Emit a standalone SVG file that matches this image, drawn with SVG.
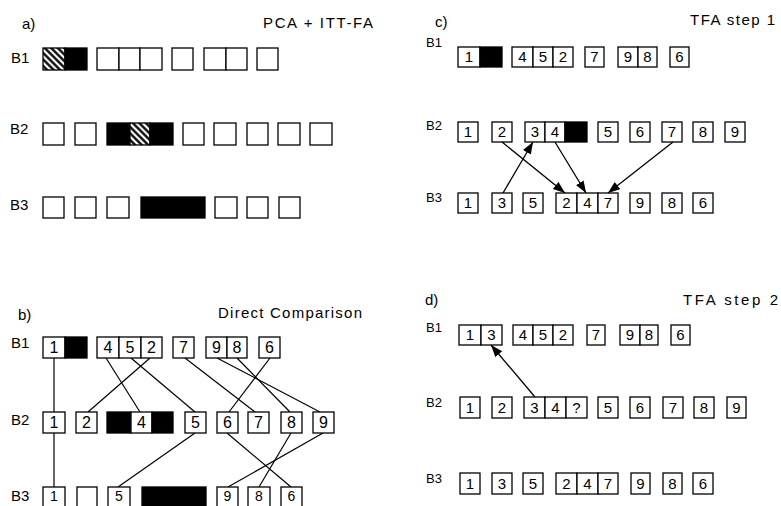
<svg xmlns="http://www.w3.org/2000/svg" width="781" height="506" viewBox="0 0 781 506">
<style>
.w{fill:#fff;stroke:#000;stroke-width:1.3}
.k{fill:#000;stroke:#000;stroke-width:1.3}
.h{fill:url(#hatch);stroke:#000;stroke-width:1.3}
text{font-family:"Liberation Sans",Arial,sans-serif;fill:#000}
.lb{font-size:15px}
.ls{font-size:13px}
.ti{font-size:15px}
.db{font-size:16px;text-anchor:middle}
.dbs{font-size:14px;text-anchor:middle}
.dc{font-size:15px;text-anchor:middle}
.c{stroke:#000;stroke-width:1.2;fill:none}
.a{stroke:#000;stroke-width:1.3;fill:none;marker-end:url(#ah)}
</style>
<defs>
<pattern id="hatch" patternUnits="userSpaceOnUse" width="4.6" height="4.6" patternTransform="rotate(-45)">
<rect width="4.6" height="4.6" fill="#fff"/>
<line x1="2.3" y1="0" x2="2.3" y2="4.6" stroke="#000" stroke-width="2.3"/>
</pattern>
<marker id="ah" markerUnits="userSpaceOnUse" markerWidth="13" markerHeight="10" refX="12" refY="4.5" orient="auto">
<path d="M0,0 L12,4.5 L0,9 z" fill="#000"/>
</marker>
</defs>
<rect width="781" height="506" fill="#fff"/>

<!-- Panel a -->
<g id="panel-a-titles">
<text class="ti" x="22" y="29">a)</text>
<text class="ti" x="263" y="28" textLength="110">PCA + ITT-FA</text>
<text class="lb" x="11" y="63">B1</text>
<text class="lb" x="10" y="134">B2</text>
<text class="lb" x="10" y="210">B3</text>
</g>
<g id="a-b1-1"><rect class="h" x="43" y="48" width="22" height="22"/></g>
<g id="a-b1-2"><rect class="k" x="65" y="48" width="22" height="22"/></g>
<g id="a-b1-3"><rect class="w" x="97" y="48" width="22" height="22"/></g>
<g id="a-b1-4"><rect class="w" x="119" y="48" width="21" height="22"/></g>
<g id="a-b1-5"><rect class="w" x="140" y="48" width="22" height="22"/></g>
<g id="a-b1-6"><rect class="w" x="172" y="48" width="21" height="22"/></g>
<g id="a-b1-7"><rect class="w" x="204" y="48" width="22" height="22"/></g>
<g id="a-b1-8"><rect class="w" x="226" y="48" width="21" height="22"/></g>
<g id="a-b1-9"><rect class="w" x="257" y="48" width="21" height="22"/></g>

<g id="a-b2-1"><rect class="w" x="43" y="123" width="21" height="22"/></g>
<g id="a-b2-2"><rect class="w" x="75" y="123" width="21" height="22"/></g>
<g id="a-b2-3"><rect class="k" x="107" y="123" width="23" height="22"/></g>
<g id="a-b2-4"><rect class="h" x="130" y="123" width="20" height="22"/></g>
<g id="a-b2-5"><rect class="k" x="150" y="123" width="23" height="22"/></g>
<g id="a-b2-6"><rect class="w" x="183" y="123" width="21" height="22"/></g>
<g id="a-b2-7"><rect class="w" x="214" y="123" width="22" height="22"/></g>
<g id="a-b2-8"><rect class="w" x="247" y="123" width="21" height="22"/></g>
<g id="a-b2-9"><rect class="w" x="278" y="123" width="22" height="22"/></g>
<g id="a-b2-10"><rect class="w" x="310" y="123" width="22" height="22"/></g>

<g id="a-b3-1"><rect class="w" x="43" y="197" width="21" height="21"/></g>
<g id="a-b3-2"><rect class="w" x="75" y="197" width="21" height="21"/></g>
<g id="a-b3-3"><rect class="w" x="107" y="197" width="22" height="21"/></g>
<g id="a-b3-4"><rect class="k" x="141" y="197" width="64" height="21"/></g>
<g id="a-b3-5"><rect class="w" x="215" y="197" width="22" height="21"/></g>
<g id="a-b3-6"><rect class="w" x="247" y="197" width="21" height="21"/></g>
<g id="a-b3-7"><rect class="w" x="279" y="197" width="21" height="21"/></g>

<!-- Panel b -->
<g id="panel-b-titles">
<text class="ti" x="18" y="320">b)</text>
<text class="ti" x="218" y="318" textLength="144">Direct Comparison</text>
<text class="lb" x="11" y="348">B1</text>
<text class="lb" x="11" y="425">B2</text>
<text class="lb" x="11" y="501">B3</text>
</g>
<g id="connectors-b">
<line class="c" x1="54" y1="358" x2="54" y2="412"/>
<line class="c" x1="54" y1="433" x2="54" y2="487"/>
<line class="c" x1="106" y1="358" x2="140" y2="412"/>
<line class="c" x1="150" y1="358" x2="88" y2="412"/>
<line class="c" x1="131" y1="358" x2="195" y2="412"/>
<line class="c" x1="185" y1="358" x2="255" y2="412"/>
<line class="c" x1="270" y1="358" x2="229" y2="412"/>
<line class="c" x1="217" y1="358" x2="320" y2="412"/>
<line class="c" x1="237" y1="358" x2="290" y2="412"/>
<line class="c" x1="195" y1="433" x2="118" y2="487"/>
<line class="c" x1="227" y1="433" x2="291" y2="487"/>
<line class="c" x1="291" y1="433" x2="259" y2="487"/>
<line class="c" x1="323" y1="433" x2="228" y2="487"/>
</g>
<g id="b-b1-1"><rect class="w" x="43" y="337" width="22" height="21"/><text class="db" x="54" y="353">1</text></g>
<g id="b-b1-x"><rect class="k" x="65" y="337" width="22" height="21"/></g>
<g id="b-b1-4"><rect class="w" x="97" y="337" width="22" height="21"/><text class="db" x="108" y="353">4</text></g>
<g id="b-b1-5"><rect class="w" x="119" y="337" width="22" height="21"/><text class="db" x="130" y="353">5</text></g>
<g id="b-b1-2"><rect class="w" x="141" y="337" width="21" height="21"/><text class="db" x="151.5" y="353">2</text></g>
<g id="b-b1-7"><rect class="w" x="173" y="337" width="21" height="21"/><text class="db" x="183.5" y="353">7</text></g>
<g id="b-b1-9"><rect class="w" x="206" y="337" width="21" height="21"/><text class="db" x="216.5" y="353">9</text></g>
<g id="b-b1-8"><rect class="w" x="227" y="337" width="20" height="21"/><text class="db" x="237" y="353">8</text></g>
<g id="b-b1-6"><rect class="w" x="259" y="337" width="21" height="21"/><text class="db" x="269.5" y="353">6</text></g>

<g id="b-b2-1"><rect class="w" x="43" y="412" width="22" height="21"/><text class="db" x="54" y="428">1</text></g>
<g id="b-b2-2"><rect class="w" x="76" y="412" width="21" height="21"/><text class="db" x="86.5" y="428">2</text></g>
<g id="b-b2-xa"><rect class="k" x="107" y="412" width="24" height="21"/></g>
<g id="b-b2-4"><rect class="w" x="131" y="412" width="21" height="21"/><text class="db" x="141.5" y="428">4</text></g>
<g id="b-b2-xb"><rect class="k" x="152" y="412" width="21" height="21"/></g>
<g id="b-b2-5"><rect class="w" x="185" y="412" width="21" height="21"/><text class="db" x="195.5" y="428">5</text></g>
<g id="b-b2-6"><rect class="w" x="217" y="412" width="21" height="21"/><text class="db" x="227.5" y="428">6</text></g>
<g id="b-b2-7"><rect class="w" x="248" y="412" width="21" height="21"/><text class="db" x="258.5" y="428">7</text></g>
<g id="b-b2-8"><rect class="w" x="281" y="412" width="21" height="21"/><text class="db" x="291.5" y="428">8</text></g>
<g id="b-b2-9"><rect class="w" x="313" y="412" width="21" height="21"/><text class="db" x="323.5" y="428">9</text></g>

<g id="b-b3-1"><rect class="w" x="43" y="487" width="22" height="24"/><text class="dbs" x="54" y="501">1</text></g>
<g id="b-b3-e"><rect class="w" x="77" y="487" width="20" height="24"/></g>
<g id="b-b3-5"><rect class="w" x="108" y="487" width="22" height="24"/><text class="dbs" x="119" y="501">5</text></g>
<g id="b-b3-x"><rect class="k" x="142" y="487" width="64" height="24"/></g>
<g id="b-b3-9"><rect class="w" x="217" y="487" width="21" height="24"/><text class="dbs" x="227.5" y="501">9</text></g>
<g id="b-b3-8"><rect class="w" x="248" y="487" width="22" height="24"/><text class="dbs" x="259" y="501">8</text></g>
<g id="b-b3-6"><rect class="w" x="281" y="487" width="21" height="24"/><text class="dbs" x="291.5" y="501">6</text></g>

<!-- Panel c -->
<g id="panel-c-titles">
<text class="ti" x="435" y="27">c)</text>
<text class="ti" x="690" y="25" textLength="85">TFA step 1</text>
<text class="ls" x="426" y="47">B1</text>
<text class="ls" x="426" y="130">B2</text>
<text class="ls" x="426" y="202">B3</text>
</g>
<g id="c-b1-1"><rect class="w" x="458" y="47" width="22" height="20"/><text class="dc" x="469" y="62">1</text></g>
<g id="c-b1-x"><rect class="k" x="480" y="47" width="22" height="20"/></g>
<g id="c-b1-4"><rect class="w" x="512" y="47" width="21" height="20"/><text class="dc" x="522.5" y="62">4</text></g>
<g id="c-b1-5"><rect class="w" x="533" y="47" width="20" height="20"/><text class="dc" x="543" y="62">5</text></g>
<g id="c-b1-2"><rect class="w" x="553" y="47" width="20" height="20"/><text class="dc" x="563" y="62">2</text></g>
<g id="c-b1-7"><rect class="w" x="585" y="47" width="19" height="20"/><text class="dc" x="594.5" y="62">7</text></g>
<g id="c-b1-9"><rect class="w" x="618" y="47" width="20" height="20"/><text class="dc" x="628" y="62">9</text></g>
<g id="c-b1-8"><rect class="w" x="638" y="47" width="19" height="20"/><text class="dc" x="647.5" y="62">8</text></g>
<g id="c-b1-6"><rect class="w" x="670" y="47" width="19" height="20"/><text class="dc" x="679.5" y="62">6</text></g>

<g id="c-b2-1"><rect class="w" x="458" y="122" width="20" height="20"/><text class="dc" x="468" y="137">1</text></g>
<g id="c-b2-2"><rect class="w" x="492" y="122" width="20" height="20"/><text class="dc" x="502" y="137">2</text></g>
<g id="c-b2-3"><rect class="w" x="525" y="122" width="20" height="20"/><text class="dc" x="535" y="137">3</text></g>
<g id="c-b2-4"><rect class="w" x="545" y="122" width="20" height="20"/><text class="dc" x="555" y="137">4</text></g>
<g id="c-b2-x"><rect class="k" x="565" y="122" width="22" height="20"/></g>
<g id="c-b2-5"><rect class="w" x="598" y="122" width="20" height="20"/><text class="dc" x="608" y="137">5</text></g>
<g id="c-b2-6"><rect class="w" x="630" y="122" width="20" height="20"/><text class="dc" x="640" y="137">6</text></g>
<g id="c-b2-7"><rect class="w" x="662" y="122" width="20" height="20"/><text class="dc" x="672" y="137">7</text></g>
<g id="c-b2-8"><rect class="w" x="693" y="122" width="20" height="20"/><text class="dc" x="703" y="137">8</text></g>
<g id="c-b2-9"><rect class="w" x="725" y="122" width="20" height="20"/><text class="dc" x="735" y="137">9</text></g>

<g id="c-b3-1"><rect class="w" x="458" y="193" width="20" height="20"/><text class="dc" x="468" y="208">1</text></g>
<g id="c-b3-3"><rect class="w" x="492" y="193" width="20" height="20"/><text class="dc" x="502" y="208">3</text></g>
<g id="c-b3-5"><rect class="w" x="523" y="193" width="20" height="20"/><text class="dc" x="533" y="208">5</text></g>
<g id="c-b3-2"><rect class="w" x="556" y="193" width="21" height="20"/><text class="dc" x="566.5" y="208">2</text></g>
<g id="c-b3-4"><rect class="w" x="577" y="193" width="21" height="20"/><text class="dc" x="587.5" y="208">4</text></g>
<g id="c-b3-7"><rect class="w" x="598" y="193" width="20" height="20"/><text class="dc" x="608" y="208">7</text></g>
<g id="c-b3-9"><rect class="w" x="630" y="193" width="20" height="20"/><text class="dc" x="640" y="208">9</text></g>
<g id="c-b3-8"><rect class="w" x="662" y="193" width="20" height="20"/><text class="dc" x="672" y="208">8</text></g>
<g id="c-b3-6"><rect class="w" x="693" y="193" width="20" height="20"/><text class="dc" x="703" y="208">6</text></g>

<g id="connectors-c">
<line class="a" x1="503" y1="193" x2="533" y2="142"/>
<line class="a" x1="502" y1="142" x2="565" y2="193"/>
<line class="a" x1="555" y1="142" x2="586" y2="193"/>
<line class="a" x1="673" y1="142" x2="608" y2="193"/>
</g>

<!-- Panel d -->
<g id="panel-d-titles">
<text class="ti" x="425" y="305">d)</text>
<text class="ti" x="683" y="305" textLength="95">TFA step 2</text>
<text class="ls" x="426" y="332">B1</text>
<text class="ls" x="426" y="407">B2</text>
<text class="ls" x="426" y="483">B3</text>
</g>
<g id="d-b1-1"><rect class="w" x="459" y="325" width="22" height="20"/><text class="dc" x="470" y="340">1</text></g>
<g id="d-b1-3"><rect class="w" x="481" y="325" width="21" height="20"/><text class="dc" x="491.5" y="340">3</text></g>
<g id="d-b1-4"><rect class="w" x="513" y="325" width="20" height="20"/><text class="dc" x="523" y="340">4</text></g>
<g id="d-b1-5"><rect class="w" x="533" y="325" width="20" height="20"/><text class="dc" x="543" y="340">5</text></g>
<g id="d-b1-2"><rect class="w" x="553" y="325" width="20" height="20"/><text class="dc" x="563" y="340">2</text></g>
<g id="d-b1-7"><rect class="w" x="587" y="325" width="18" height="20"/><text class="dc" x="596" y="340">7</text></g>
<g id="d-b1-9"><rect class="w" x="620" y="325" width="20" height="20"/><text class="dc" x="630" y="340">9</text></g>
<g id="d-b1-8"><rect class="w" x="640" y="325" width="18" height="20"/><text class="dc" x="649" y="340">8</text></g>
<g id="d-b1-6"><rect class="w" x="671" y="325" width="19" height="20"/><text class="dc" x="680.5" y="340">6</text></g>

<g id="d-b2-1"><rect class="w" x="460" y="397" width="20" height="21"/><text class="dc" x="470" y="413">1</text></g>
<g id="d-b2-2"><rect class="w" x="492" y="397" width="20" height="21"/><text class="dc" x="502" y="413">2</text></g>
<g id="d-b2-3"><rect class="w" x="524" y="397" width="21" height="21"/><text class="dc" x="534.5" y="413">3</text></g>
<g id="d-b2-4"><rect class="w" x="545" y="397" width="21" height="21"/><text class="dc" x="555.5" y="413">4</text></g>
<g id="d-b2-q"><rect class="w" x="566" y="397" width="21" height="21"/><text class="dc" x="576.5" y="413">?</text></g>
<g id="d-b2-5"><rect class="w" x="598" y="397" width="20" height="21"/><text class="dc" x="608" y="413">5</text></g>
<g id="d-b2-6"><rect class="w" x="630" y="397" width="20" height="21"/><text class="dc" x="640" y="413">6</text></g>
<g id="d-b2-7"><rect class="w" x="663" y="397" width="20" height="21"/><text class="dc" x="673" y="413">7</text></g>
<g id="d-b2-8"><rect class="w" x="694" y="397" width="20" height="21"/><text class="dc" x="704" y="413">8</text></g>
<g id="d-b2-9"><rect class="w" x="727" y="397" width="19" height="21"/><text class="dc" x="736.5" y="413">9</text></g>

<g id="d-b3-1"><rect class="w" x="460" y="473" width="20" height="21"/><text class="dc" x="470" y="489">1</text></g>
<g id="d-b3-3"><rect class="w" x="492" y="473" width="20" height="21"/><text class="dc" x="502" y="489">3</text></g>
<g id="d-b3-5"><rect class="w" x="523" y="473" width="20" height="21"/><text class="dc" x="533" y="489">5</text></g>
<g id="d-b3-2"><rect class="w" x="556" y="473" width="21" height="21"/><text class="dc" x="566.5" y="489">2</text></g>
<g id="d-b3-4"><rect class="w" x="577" y="473" width="21" height="21"/><text class="dc" x="587.5" y="489">4</text></g>
<g id="d-b3-7"><rect class="w" x="598" y="473" width="20" height="21"/><text class="dc" x="608" y="489">7</text></g>
<g id="d-b3-9"><rect class="w" x="631" y="473" width="19" height="21"/><text class="dc" x="640.5" y="489">9</text></g>
<g id="d-b3-8"><rect class="w" x="663" y="473" width="19" height="21"/><text class="dc" x="672.5" y="489">8</text></g>
<g id="d-b3-6"><rect class="w" x="693" y="473" width="20" height="21"/><text class="dc" x="703" y="489">6</text></g>

<g id="connectors-d">
<line class="a" x1="535" y1="397" x2="491" y2="345"/>
</g>
</svg>
